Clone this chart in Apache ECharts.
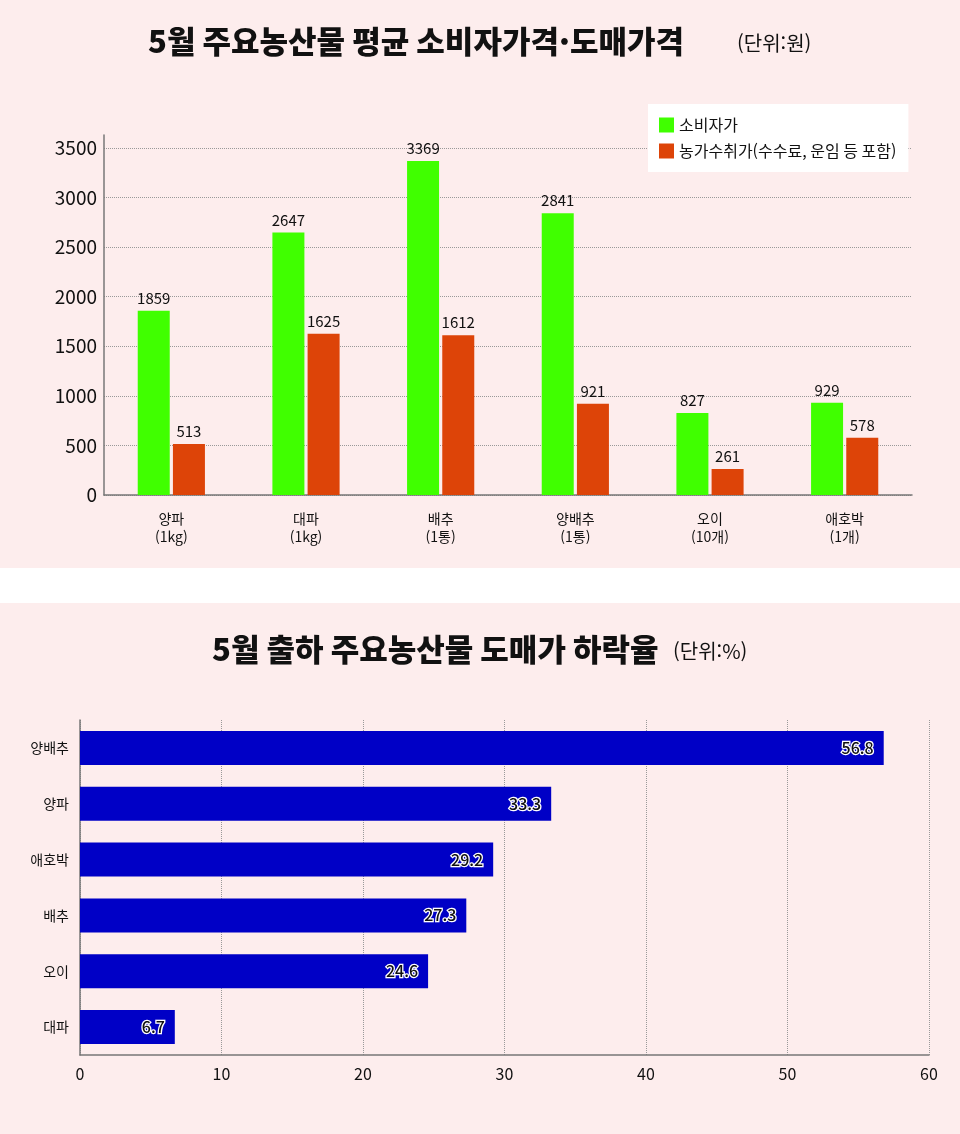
<!DOCTYPE html>
<html lang="ko" style="height: 100%">
<head>
    <meta charset="utf-8">
</head>
<body style="height: 100%; margin: 0">
<div id="main" style="width: 960px; height: 1134px"></div>

<script type="text/javascript" src="https://cdn.jsdelivr.net/npm/echarts@6/dist/echarts.min.js"></script>

<script type="text/javascript">
    var FONT = '"Noto Sans CJK KR", "Noto Sans", sans-serif';

    // 위 차트: 품목별 소비자가 / 농가수취가 (원)
    var priceItems = ['양파\n(1kg)', '대파\n(1kg)', '배추\n(1통)', '양배추\n(1통)', '오이\n(10개)', '애호박\n(1개)'];
    var consumerPrice = [1859, 2647, 3369, 2841, 827, 929];
    var farmPrice = [513, 1625, 1612, 921, 261, 578];

    // 아래 차트: 도매가 하락율 (%)
    var dropItems = ['양배추', '양파', '애호박', '배추', '오이', '대파'];
    var dropRate = [56.8, 33.3, 29.2, 27.3, 24.6, 6.7];

    var chartDom = document.getElementById('main');
    var myChart = echarts.init(chartDom);
    var option;

    option = {
        backgroundColor: '#fdeded',
        textStyle: { fontFamily: FONT },
        animation: false,
        graphic: [
            {
                type: 'rect',
                shape: { x: 0, y: 568, width: 960, height: 35 },
                style: { fill: '#ffffff' },
                silent: true
            }
        ],
        title: [
            {
                text: '5월 주요농산물 평균 소비자가격·도매가격',
                left: 148,
                top: 26,
                padding: 0,
                textStyle: { fontFamily: FONT, fontSize: 31, fontWeight: 900, color: '#111' }
            },
            {
                text: '(단위:원)',
                left: 737,
                top: 33,
                padding: 0,
                textStyle: { fontFamily: FONT, fontSize: 20, fontWeight: 'normal', color: '#111' }
            },
            {
                text: '5월 출하 주요농산물 도매가 하락율',
                left: 212,
                top: 634,
                padding: 0,
                textStyle: { fontFamily: FONT, fontSize: 31, fontWeight: 900, color: '#111' }
            },
            {
                text: '(단위:%)',
                left: 673,
                top: 641,
                padding: 0,
                textStyle: { fontFamily: FONT, fontSize: 20, fontWeight: 'normal', color: '#111' }
            }
        ],
        legend: {
            data: ['소비자가', '농가수취가(수수료, 운임 등 포함)'],
            orient: 'vertical',
            left: 648,
            top: 104,
            width: 255,
            backgroundColor: '#ffffff',
            padding: [13, 12, 13, 11],
            itemGap: 10,
            itemWidth: 15,
            itemHeight: 15,
            icon: 'rect',
            textStyle: { fontFamily: FONT, fontSize: 16, color: '#111' }
        },
        grid: [
            { left: 104, right: 48, top: 135, bottom: 639 },
            { left: 80, right: 31, top: 720, bottom: 79 }
        ],
        xAxis: [
            {
                type: 'category',
                gridIndex: 0,
                data: priceItems,
                axisLine: { lineStyle: { color: '#777', width: 1.5 } },
                axisTick: { show: false },
                axisLabel: {
                    fontFamily: FONT,
                    fontSize: 14,
                    color: '#111',
                    lineHeight: 18,
                    margin: 15
                }
            },
            {
                type: 'value',
                gridIndex: 1,
                min: 0,
                max: 60,
                interval: 10,
                axisLine: { show: true, lineStyle: { color: '#777', width: 1.5 } },
                axisTick: { show: false },
                axisLabel: { fontFamily: FONT, fontSize: 16, color: '#111', margin: 11 },
                splitLine: { lineStyle: { color: '#999', type: 'dotted' } }
            }
        ],
        yAxis: [
            {
                type: 'value',
                gridIndex: 0,
                min: 0,
                max: 3630,
                interval: 500,
                axisLine: { show: true, lineStyle: { color: '#777', width: 1.5 } },
                axisTick: { show: false },
                axisLabel: {
                    fontFamily: FONT,
                    fontSize: 19,
                    color: '#111',
                    margin: 7,
                    showMaxLabel: false,
                    formatter: function (v) { return v % 500 === 0 ? v : ''; }
                },
                splitLine: { showMaxLine: false, lineStyle: { color: '#999', type: 'dotted' } }
            },
            {
                type: 'category',
                gridIndex: 1,
                inverse: true,
                data: dropItems,
                axisLine: { lineStyle: { color: '#777', width: 1.5 } },
                axisTick: { show: false },
                axisLabel: { fontFamily: FONT, fontSize: 14, color: '#111', margin: 11 }
            }
        ],
        series: [
            {
                name: '소비자가',
                type: 'bar',
                xAxisIndex: 0,
                yAxisIndex: 0,
                data: consumerPrice,
                barWidth: 32,
                barGap: '10%',
                itemStyle: { color: '#40ff00' },
                label: {
                    show: true,
                    position: 'top',
                    distance: 5,
                    fontFamily: FONT,
                    fontSize: 15,
                    color: '#111'
                }
            },
            {
                name: '농가수취가(수수료, 운임 등 포함)',
                type: 'bar',
                xAxisIndex: 0,
                yAxisIndex: 0,
                data: farmPrice,
                barWidth: 32,
                barGap: '10%',
                itemStyle: { color: '#dd4408' },
                label: {
                    show: true,
                    position: 'top',
                    distance: 5,
                    fontFamily: FONT,
                    fontSize: 15,
                    color: '#111'
                }
            },
            {
                name: '하락율',
                type: 'bar',
                xAxisIndex: 1,
                yAxisIndex: 1,
                data: dropRate,
                barWidth: 34,
                itemStyle: { color: '#0000c6' },
                label: {
                    show: true,
                    position: 'insideRight',
                    distance: 10,
                    fontFamily: FONT,
                    fontSize: 16,
                    fontWeight: 500,
                    color: '#111',
                    textBorderColor: '#ffffff',
                    textBorderWidth: 2.5
                }
            }
        ]
    };

    option && myChart.setOption(option);
</script>
</body>
</html>
